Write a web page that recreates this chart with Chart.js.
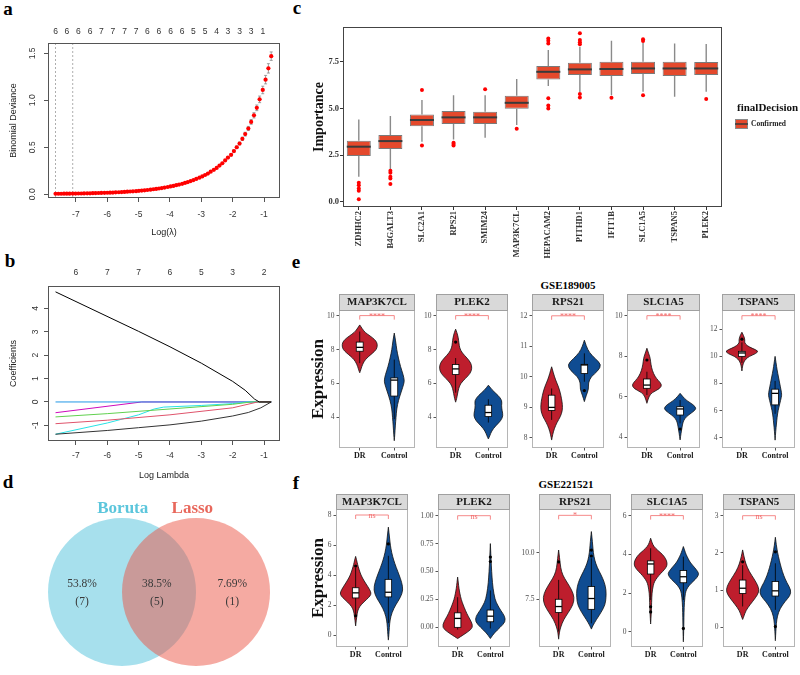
<!DOCTYPE html>
<html>
<head>
<meta charset="utf-8">
<script src="https://cdn.jsdelivr.net/npm/chart.js@4.4.1/dist/chart.umd.min.js"></script>
<style>
  body { margin:0; width:800px; height:675px; background:#fff; position:relative; overflow:hidden; }
  canvas { position:absolute; }
  .t { position:absolute; transform:translate(-50%,-50%); font-family:"Liberation Serif",serif; font-weight:bold; white-space:nowrap; color:#000; }
</style>
</head>
<body>
<div class="t" style="left:8px;top:9px;font-size:19px">a</div>
<div class="t" style="left:10px;top:261px;font-size:19px">b</div>
<div class="t" style="left:297px;top:8px;font-size:19px">c</div>
<div class="t" style="left:8px;top:482px;font-size:19px">d</div>
<div class="t" style="left:296px;top:262px;font-size:19px">e</div>
<div class="t" style="left:296px;top:483px;font-size:19px">f</div>
<div class="t" style="left:568px;top:285px;font-size:11px">GSE189005</div>
<div class="t" style="left:566px;top:484px;font-size:11px">GSE221521</div>
<script>
// ---------- panel a : cross-validation curve ----------
const logLambda = [-0.77, -0.86, -0.95, -1.04, -1.14, -1.23, -1.32, -1.41, -1.50, -1.60,
  -1.69, -1.78, -1.87, -1.96, -2.05, -2.15, -2.24, -2.33, -2.42, -2.51,
  -2.60, -2.70, -2.79, -2.88, -2.97, -3.06, -3.16, -3.25, -3.34, -3.43,
  -3.52, -3.61, -3.71, -3.80, -3.89, -3.98, -4.07, -4.17, -4.26, -4.35,
  -4.44, -4.53, -4.62, -4.72, -4.81, -4.90, -4.99, -5.08, -5.18, -5.27,
  -5.36, -5.45, -5.54, -5.63, -5.73, -5.82, -5.91, -6.00, -6.09, -6.19,
  -6.28, -6.37, -6.46, -6.55, -6.64, -6.74, -6.83, -6.92, -7.01, -7.10,
  -7.20, -7.29, -7.38, -7.47, -7.56, -7.65];
const devMean = [1.47, 1.34, 1.22, 1.11, 1.01, 0.92, 0.84, 0.77, 0.70, 0.64,
  0.59, 0.54, 0.50, 0.46, 0.42, 0.39, 0.36, 0.33, 0.305, 0.28,
  0.26, 0.24, 0.22, 0.205, 0.19, 0.176, 0.163, 0.151, 0.14, 0.13,
  0.12, 0.111, 0.103, 0.096, 0.089, 0.083, 0.077, 0.071, 0.066, 0.061,
  0.057, 0.053, 0.049, 0.045, 0.042, 0.039, 0.036, 0.033, 0.031, 0.029,
  0.027, 0.025, 0.023, 0.021, 0.020, 0.018, 0.017, 0.016, 0.015, 0.014,
  0.013, 0.012, 0.011, 0.010, 0.010, 0.009, 0.008, 0.008, 0.007, 0.007,
  0.006, 0.006, 0.006, 0.005, 0.005, 0.005];
const devErr = [0.045, 0.05, 0.045, 0.04, 0.035, 0.03, 0.028, 0.025, 0.022, 0.02, 0.018, 0.016, 0.014, 0.012, 0.011, 0.01];
const lambdaLines = [-7.65, -7.10];
const aTopPos = [-7.65, -7.29, -6.92, -6.55, -6.19, -5.82, -5.45, -5.08, -4.72, -4.35, -3.98, -3.61, -3.25, -2.88, -2.51, -2.15, -1.78, -1.41, -1.04];
const aTopLabels = ['6','6','6','6','7','7','7','7','6','6','6','6','5','5','4','3','3','3','1'];

// ---------- panel b : coefficient paths ----------
const bTopPos = [-7, -6, -5, -4, -3, -2, -1];
const bTopLabels = ['6','7','7','6','5','3','2'];
const coefPaths = [
  [[-7.65,4.71],[-5,3.02],[-4,2.36],[-3,1.66],[-2,0.88],[-1.6,0.5],[-1.3,0.12],[-1.15,0],[-0.77,0]],
  [[-7.65,-1.38],[-6,-1.22],[-5,-1.1],[-4,-0.98],[-3,-0.82],[-2,-0.6],[-1.5,-0.45],[-1.1,-0.25],[-0.77,0]],
  [[-7.65,-0.93],[-6,-0.78],[-4,-0.55],[-2,-0.25],[-1.2,0],[-0.77,0]],
  [[-7.65,-0.64],[-6,-0.5],[-4,-0.3],[-2,-0.1],[-1.4,0],[-0.77,0]],
  [[-7.65,-1.38],[-6,-0.9],[-5,-0.55],[-4.5,-0.3],[-4.2,-0.22],[-3,-0.15],[-2,-0.07],[-1.5,0],[-0.77,0]],
  [[-7.65,0],[-0.77,0]],
  [[-7.65,-0.46],[-4.9,0],[-0.77,0]]
];
const coefColors = ['#000000', '#333333', '#DF536B', '#61D04F', '#28E2E5', '#2297E6', '#CD0BBC'];

// ---------- panel c : Boruta importance ----------
const cGenes = ['ZDHHC2','B4GALT3','SLC2A1','RPS21','SMIM24','MAP3K7CL','HEPACAM2','PITHD1','IFIT1B','SLC1A5','TSPAN5','PLEK2'];
const cLo  = [1.34, 1.73, 3.21, 3.34, 3.43, 4.11, 6.20, 5.86, 5.71, 5.89, 5.63, 5.89];
const cQ1  = [2.45, 2.82, 4.05, 4.16, 4.16, 4.98, 6.55, 6.79, 6.73, 6.84, 6.73, 6.79];
const cMed = [2.95, 3.25, 4.38, 4.52, 4.52, 5.30, 6.96, 7.09, 7.11, 7.14, 7.14, 7.14];
const cQ3  = [3.27, 3.57, 4.68, 4.86, 4.82, 5.68, 7.27, 7.45, 7.50, 7.50, 7.50, 7.48];
const cHi  = [4.41, 4.59, 5.45, 5.71, 5.71, 6.57, 8.13, 8.30, 8.63, 8.52, 8.48, 8.45];
const cOut = [[1.02,0.89,0.71,0.59,0.13],[1.66,1.55,1.34,1.25,0.95],[5.98,3.02],[3.16,3.09,3.02],[6.02],[3.91],
  [8.75,8.63,8.48,5.54,5.16,5.0],[9.02,8.66,8.54,8.43,5.77,5.59],[5.57],[8.71,8.61,5.71],[],[5.5]];
const cTicks = [0, 2.5, 5, 7.5];

// ---------- panel d : Venn ----------
const vennSets = ['Boruta', 'Lasso'];
const vennCounts = [7, 5, 1]; // Boruta only, both, Lasso only

// ---------- panels e, f : violins ----------
const groups = ['DR', 'Control'];
const eGenes = ['MAP3K7CL','PLEK2','RPS21','SLC1A5','TSPAN5'];
const eSig = ['****','****','****','****','****'];
const eBracket = [10, 10, 12, 10, 13];
const eTicks = [[4,6,8,10],[4,6,8,10],[8,9,10,11,12],[4,6,8,10],[4,6,8,10,12]];
const eTickLabels = [['4','6','8','10'],['4','6','8','10'],['8','9','10','11','12'],['4','6','8','10'],['4','6','8','10','12']];
const eRange = [[2.2,10.33],[2.2,10.33],[7.67,12.19],[3.46,10.28],[3.24,13.42]];
const eViolinDR = [
  [[9.45,0],[9.2,0.08],[9.0,0.16],[8.8,0.3],[8.6,0.43],[8.4,0.5],[8.2,0.51],[8.0,0.48],[7.8,0.38],[7.6,0.26],[7.4,0.16],[7.2,0.1],[7.0,0.06],[6.8,0.03],[6.63,0]],
  [[9.2,0],[9.0,0.04],[8.7,0.08],[8.4,0.1],[8.1,0.12],[7.8,0.2],[7.5,0.35],[7.2,0.47],[6.9,0.5],[6.6,0.45],[6.3,0.3],[6.0,0.15],[5.7,0.09],[5.4,0.06],[5.1,0.03],[4.9,0]],
  [[10.33,0],[10.1,0.06],[9.9,0.12],[9.7,0.2],[9.5,0.26],[9.3,0.3],[9.1,0.33],[8.9,0.33],[8.7,0.27],[8.5,0.16],[8.3,0.08],[8.1,0.03],[7.93,0]],
  [[8.39,0],[8.1,0.06],[7.9,0.1],[7.6,0.12],[7.3,0.16],[7.0,0.24],[6.8,0.34],[6.6,0.45],[6.4,0.4],[6.2,0.15],[6.0,0.06],[5.67,0]],
  [[11.78,0],[11.5,0.06],[11.2,0.09],[11.0,0.08],[10.8,0.15],[10.6,0.3],[10.4,0.5],[10.2,0.42],[10.0,0.22],[9.8,0.12],[9.6,0.06],[9.3,0.02],[8.92,0]]
];
const eViolinCtrl = [
  [[8.97,0],[8.5,0.04],[8.0,0.07],[7.5,0.12],[7.0,0.18],[6.5,0.26],[6.2,0.29],[6.0,0.28],[5.5,0.2],[5.0,0.12],[4.5,0.07],[4.0,0.05],[3.5,0.03],[3.0,0.015],[2.63,0]],
  [[5.9,0],[5.6,0.12],[5.3,0.3],[5.0,0.42],[4.7,0.4],[4.4,0.42],[4.1,0.45],[3.8,0.38],[3.5,0.22],[3.2,0.1],[2.9,0.04],[2.73,0]],
  [[11.2,0],[11.0,0.06],[10.8,0.15],[10.6,0.33],[10.4,0.52],[10.2,0.42],[10.0,0.2],[9.8,0.12],[9.6,0.13],[9.4,0.06],[9.19,0]],
  [[6.16,0],[6.0,0.08],[5.8,0.2],[5.6,0.4],[5.4,0.5],[5.2,0.35],[5.0,0.18],[4.8,0.1],[4.6,0.07],[4.4,0.05],[4.2,0.03],[3.86,0]],
  [[10.0,0],[9.5,0.03],[9.0,0.06],[8.5,0.1],[8.0,0.14],[7.5,0.18],[7.2,0.2],[7.0,0.19],[6.5,0.14],[6.0,0.09],[5.5,0.06],[5.0,0.04],[4.5,0.02],[3.82,0]]
];
// [lower whisker, q1, median, q3, upper whisker]
const eBoxDR = [[7.2,7.9,8.13,8.44,9.06],[5.46,6.53,6.86,7.12,7.5],[8.59,8.9,9.0,9.4,9.62],[6.08,6.41,6.57,6.87,7.23],[9.52,10.0,10.25,10.37,11.03]];
const eBoxCtrl = [[3.9,5.26,6.2,6.33,7.41],[3.7,4.05,4.29,4.72,5.07],[9.84,10.11,10.39,10.41,10.77],[4.68,5.09,5.39,5.5,5.83],[5.76,6.42,7.27,7.58,8.19]];
const eOutDR = [[],[8.44],[],[7.81],[11.27]];
const eOutCtrl = [[],[],[9.55],[4.4],[]];

const fGenes = ['MAP3K7CL','PLEK2','RPS21','SLC1A5','TSPAN5'];
const fSig = ['ns','ns','*','****','ns'];
const fBracket = [8, 1.0, 12.0, 6, 3];
const fTicks = [[0,2,4,6,8],[0,0.25,0.5,0.75,1],[7.5,10],[0,2,4,6],[0,1,2,3]];
const fTickLabels = [['0','2','4','6','8'],['0.00','0.25','0.50','0.75','1.00'],['7.5','10.0'],['0','2','4','6'],['0','1','2','3']];
const fRange = [[-0.8,8.4],[-0.176,1.06],[4.94,12.34],[-0.79,6.34],[-0.53,3.18]];
const fViolinDR = [
  [[5.24,0],[5.0,0.03],[4.7,0.06],[4.4,0.1],[4.0,0.16],[3.6,0.26],[3.2,0.38],[2.9,0.46],[2.7,0.47],[2.5,0.4],[2.2,0.25],[1.9,0.12],[1.6,0.06],[1.3,0.04],[1.0,0.02],[0.6,0]],
  [[0.45,0],[0.4,0.02],[0.35,0.04],[0.3,0.07],[0.25,0.11],[0.2,0.17],[0.15,0.24],[0.1,0.32],[0.05,0.42],[0.0,0.47],[-0.04,0.32],[-0.1,0]],
  [[10.14,0],[9.7,0.03],[9.2,0.06],[8.8,0.12],[8.4,0.26],[8.0,0.4],[7.6,0.48],[7.2,0.44],[6.8,0.3],[6.4,0.15],[6.0,0.06],[5.7,0.02],[5.36,0]],
  [[4.83,0],[4.6,0.04],[4.4,0.1],[4.2,0.22],[4.0,0.36],[3.8,0.45],[3.6,0.5],[3.4,0.5],[3.2,0.42],[3.0,0.3],[2.8,0.2],[2.6,0.12],[2.4,0.08],[2.0,0.04],[1.5,0.03],[1.0,0.02],[0.4,0]],
  [[2.08,0],[1.9,0.04],[1.7,0.1],[1.5,0.2],[1.3,0.35],[1.1,0.48],[0.95,0.5],[0.8,0.4],[0.6,0.22],[0.45,0.1],[0.3,0.04],[0.21,0]]
];
const fViolinCtrl = [
  [[7.19,0],[6.8,0.02],[6.4,0.04],[6.0,0.06],[5.5,0.1],[5.0,0.16],[4.5,0.24],[4.0,0.33],[3.5,0.41],[3.0,0.45],[2.5,0.37],[2.0,0.22],[1.5,0.11],[1.0,0.05],[0.5,0.03],[0,0.015],[-0.34,0]],
  [[0.75,0],[0.65,0.015],[0.55,0.03],[0.45,0.05],[0.35,0.08],[0.25,0.14],[0.2,0.22],[0.15,0.32],[0.1,0.44],[0.05,0.46],[0.0,0.3],[-0.05,0.12],[-0.1,0]],
  [[11.13,0],[10.8,0.02],[10.4,0.04],[10.0,0.06],[9.6,0.1],[9.2,0.18],[8.8,0.3],[8.4,0.4],[8.0,0.45],[7.6,0.45],[7.2,0.42],[6.8,0.3],[6.4,0.15],[6.1,0.05],[5.9,0]],
  [[4.4,0],[4.2,0.04],[4.0,0.08],[3.8,0.14],[3.6,0.2],[3.4,0.3],[3.2,0.4],[3.0,0.48],[2.8,0.42],[2.6,0.3],[2.4,0.18],[2.2,0.1],[2.0,0.06],[1.5,0.03],[1.0,0.02],[0.5,0.015],[0,0.01],[-0.52,0]],
  [[2.42,0],[2.2,0.03],[2.0,0.07],[1.8,0.12],[1.6,0.18],[1.4,0.25],[1.2,0.35],[1.0,0.48],[0.85,0.45],[0.7,0.3],[0.5,0.14],[0.3,0.06],[0.1,0.03],[-0.1,0.015],[-0.36,0]]
];
const fBoxDR = [[1.35,2.47,2.81,3.15,4.49],[-0.02,0.0,0.08,0.13,0.27],[5.77,6.79,7.11,7.5,8.54],[1.64,2.98,3.5,3.66,4.31],[0.56,0.91,1.05,1.27,1.67]];
const fBoxCtrl = [[0.79,2.54,2.85,3.71,5.28],[-0.01,0.05,0.10,0.155,0.33],[6.21,6.96,7.54,8.18,9.7],[1.64,2.53,2.84,3.16,3.88],[0.47,0.84,0.98,1.23,1.72]];
const fOutDR = [[4.6,1.28],[],[9.5],[1.29,1.02],[1.76]];
const fOutCtrl = [[6.07],[0.63,0.59],[10.14,9.82],[0.17],[2.03,0.02]];

// ---------- helpers ----------
const SANS = '"Liberation Sans", Arial, sans-serif';
const SERIF = '"Liberation Serif", "Times New Roman", serif';
Chart.defaults.font.family = SERIF;

function canvasAt(l, t, w, h) {
  const c = document.createElement('canvas');
  c.width = w; c.height = h;
  Object.assign(c.style, { left: l + 'px', top: t + 'px', width: w + 'px', height: h + 'px' });
  document.body.appendChild(c);
  return c;
}
const fixX = h => s => { s.height = h; s.paddingLeft = 0; s.paddingRight = 0; };
const fixY = w => s => { s.width = w; s.paddingTop = 0; s.paddingBottom = 0; };
const tickAt = vals => s => { s.ticks = vals.map(v => ({ value: v })); };
const base = { responsive: false, animation: false, devicePixelRatio: 1, events: [],
  plugins: { legend: { display: false }, tooltip: { enabled: false } } };

function frame(color) {
  return { id: 'frame', afterDraw(ch) {
    const a = ch.chartArea, c = ch.ctx;
    c.save(); c.strokeStyle = color; c.lineWidth = 1;
    c.strokeRect(Math.round(a.left) + 0.5, Math.round(a.top) + 0.5, Math.round(a.width) - 1, Math.round(a.height) - 1);
    c.restore();
  } };
}

// shared R-style axes for panels a and b
function glmnetScales(o) {
  const tf = { family: SANS, size: 8.5 };
  return {
    x: { type: 'linear', position: 'bottom', min: -7.89, max: -0.49,
      afterBuildTicks: tickAt([-7, -6, -5, -4, -3, -2, -1]),
      ticks: { font: tf, color: '#333', padding: o.xPad, autoSkip: false, maxRotation: 0, callback: v => String(v) },
      grid: { drawOnChartArea: false, tickLength: 4, color: '#555' }, border: { display: false },
      title: { display: true, text: o.xTitle, font: { family: SANS, size: 9 }, color: '#222', padding: { top: 0, bottom: o.xTitlePad } },
      afterFit: fixX(o.padB) },
    x2: { type: 'linear', position: 'top', min: -7.89, max: -0.49,
      afterBuildTicks: tickAt(o.topPos),
      ticks: { font: tf, color: '#333', padding: o.topPad, autoSkip: false, maxRotation: 0, callback: (v, i) => o.topLabels[i] },
      grid: { display: false, drawTicks: false }, border: { display: false },
      afterFit: fixX(o.padT) },
    y: { min: o.yMin, max: o.yMax, afterBuildTicks: tickAt(o.yTicks),
      ticks: { font: tf, color: '#333', minRotation: 90, maxRotation: 90, crossAlign: 'center', padding: 5, autoSkip: false, callback: o.yFmt },
      grid: { drawOnChartArea: false, tickLength: 4, color: '#555' }, border: { display: false },
      title: { display: true, text: o.yTitle, font: { family: SANS, size: 9 }, color: '#222', padding: { top: 8, bottom: 0 } },
      afterFit: fixY(48) }
  };
}

// ---------- panel a ----------
const cvPlugin = {
  id: 'cv',
  beforeDatasetsDraw(ch) {
    const { ctx, chartArea: a, scales: { x, y } } = ch;
    ctx.save();
    ctx.strokeStyle = '#9a9a9a'; ctx.lineWidth = 0.8; ctx.setLineDash([2, 2]);
    lambdaLines.forEach(v => {
      const px = x.getPixelForValue(v);
      ctx.beginPath(); ctx.moveTo(px, a.top); ctx.lineTo(px, a.bottom); ctx.stroke();
    });
    ctx.setLineDash([]);
    ctx.strokeStyle = '#888';
    logLambda.forEach((lx, i) => {
      const e = devErr[i] || 0;
      if (!e) return;
      const px = x.getPixelForValue(lx), y1 = y.getPixelForValue(devMean[i] + e), y2 = y.getPixelForValue(devMean[i] - e);
      ctx.beginPath();
      ctx.moveTo(px, y1); ctx.lineTo(px, y2);
      ctx.moveTo(px - 1.5, y1); ctx.lineTo(px + 1.5, y1);
      ctx.moveTo(px - 1.5, y2); ctx.lineTo(px + 1.5, y2);
      ctx.stroke();
    });
    ctx.restore();
  }
};
new Chart(canvasAt(0, 0, 290, 240), {
  type: 'scatter',
  data: { datasets: [{ data: logLambda.map((x, i) => ({ x, y: devMean[i] })), pointRadius: 2.1,
    backgroundColor: '#ff0000', borderWidth: 0 }] },
  options: { ...base, layout: { padding: { left: 0, top: 0, right: 10, bottom: 0 } },
    scales: glmnetScales({ xTitle: 'Log(\u03bb)', xPad: 8, xTitlePad: 1.6, padB: 42, topPos: aTopPos, topLabels: aTopLabels,
      topPad: 6, padT: 43, yMin: -0.04, yMax: 1.61, yTicks: [0, 0.5, 1, 1.5], yFmt: v => v.toFixed(1), yTitle: 'Binomial Deviance' }) },
  plugins: [cvPlugin, frame('#555')]
});

// ---------- panel b ----------
new Chart(canvasAt(0, 255, 290, 230), {
  type: 'scatter',
  data: { datasets: coefPaths.map((p, k) => ({ data: p.map(([x, y]) => ({ x, y })), showLine: true,
    borderColor: coefColors[k], borderWidth: 1, pointRadius: 0, tension: 0 })) },
  options: { ...base, layout: { padding: { left: 0, top: 0, right: 10, bottom: 0 } },
    scales: glmnetScales({ xTitle: 'Log Lambda', xPad: 6, xTitlePad: 3.6, padB: 44, topPos: bTopPos, topLabels: bTopLabels,
      topPad: 8, padT: 31, yMin: -1.67, yMax: 4.96, yTicks: [-1, 0, 1, 2, 3, 4], yFmt: v => String(v), yTitle: 'Coefficients' }) },
  plugins: [frame('#555')]
});

// ---------- panel c ----------
const boxColor = '#E4492C';
const boxPluginC = {
  id: 'cbox',
  beforeDatasetsDraw(ch) {
    const { ctx, scales: { x, y } } = ch;
    ctx.save(); ctx.strokeStyle = '#8a8a8a'; ctx.lineWidth = 1.4;
    cGenes.forEach((g, i) => {
      const px = x.getPixelForValue(i);
      ctx.beginPath();
      ctx.moveTo(px, y.getPixelForValue(cLo[i])); ctx.lineTo(px, y.getPixelForValue(cQ1[i]));
      ctx.moveTo(px, y.getPixelForValue(cQ3[i])); ctx.lineTo(px, y.getPixelForValue(cHi[i]));
      ctx.stroke();
    });
    ctx.restore();
  },
  afterDatasetsDraw(ch) {
    const { ctx, scales: { y } } = ch;
    const bars = ch.getDatasetMeta(0).data;
    ctx.save(); ctx.strokeStyle = '#3a3a3a'; ctx.lineWidth = 2;
    bars.forEach((b, i) => {
      const py = y.getPixelForValue(cMed[i]);
      ctx.beginPath(); ctx.moveTo(b.x - b.width / 2, py); ctx.lineTo(b.x + b.width / 2, py); ctx.stroke();
    });
    ctx.restore();
  },
  afterDraw(ch) {
    const ctx = ch.ctx, ox = 291;
    ctx.save();
    ctx.fillStyle = '#111'; ctx.textBaseline = 'middle'; ctx.textAlign = 'left';
    ctx.font = 'bold 11px ' + SERIF;
    ctx.fillText('finalDecision', 737 - ox, 108);
    ctx.fillStyle = boxColor; ctx.strokeStyle = '#8a8a8a'; ctx.lineWidth = 1;
    ctx.fillRect(735 - ox, 119.5, 13, 9); ctx.strokeRect(735.5 - ox, 119.5, 12, 9);
    ctx.strokeStyle = '#3a3a3a'; ctx.lineWidth = 1.5;
    ctx.beginPath(); ctx.moveTo(735 - ox, 124); ctx.lineTo(748 - ox, 124); ctx.stroke();
    ctx.fillStyle = '#222'; ctx.font = 'bold 7.5px ' + SERIF;
    ctx.fillText('Confirmed', 751 - ox, 124.5);
    ctx.restore();
  }
};
new Chart(canvasAt(291, 0, 509, 260), {
  type: 'bar',
  data: { labels: cGenes, datasets: [
    { data: cGenes.map((g, i) => [cQ1[i], cQ3[i]]), backgroundColor: boxColor, borderColor: '#7a7a7a',
      borderWidth: 1, borderSkipped: false, barPercentage: 0.76, categoryPercentage: 1 },
    { type: 'scatter', data: cOut.flatMap((arr, i) => arr.map(v => ({ x: cGenes[i], y: v }))), pointRadius: 2,
      backgroundColor: '#ff0000', borderWidth: 0 }
  ] },
  options: { ...base, layout: { padding: { left: 0, top: 27, right: 78, bottom: 0 } },
    scales: {
      x: { ticks: { font: { weight: 'bold', size: 8.5 }, color: '#333', minRotation: 90, maxRotation: 90, autoSkip: false, padding: 1 },
        grid: { drawOnChartArea: false, tickLength: 3, color: '#333', offset: false }, border: { display: false }, afterFit: fixX(53) },
      y: { min: -0.28, max: 9.36, afterBuildTicks: tickAt(cTicks),
        ticks: { callback: v => v.toFixed(1), font: { weight: 'bold', size: 8.5 }, color: '#333', padding: 1, autoSkip: false },
        grid: { drawOnChartArea: false, tickLength: 3, color: '#333' }, border: { display: false },
        title: { display: true, text: 'Importance', font: { weight: 'bold', size: 14 }, color: '#111', padding: { top: 19.6, bottom: 0 } },
        afterFit: fixY(52) }
    } },
  plugins: [boxPluginC, frame('#444')]
});

// ---------- panel d ----------
const vennR = 1, vennOff = 0.5;
const vennPlugin = {
  id: 'venn',
  afterDatasetsDraw(ch) {
    const { ctx, scales: { x, y } } = ch;
    const r = x.getPixelForValue(vennR) - x.getPixelForValue(0);
    const total = vennCounts.reduce((s, v) => s + v, 0);
    ctx.save();
    [[-vennOff, 'rgba(79,193,219,0.5)'], [vennOff, 'rgba(236,86,70,0.5)']].forEach(([cx, col]) => {
      ctx.beginPath(); ctx.arc(x.getPixelForValue(cx), y.getPixelForValue(0), r, 0, Math.PI * 2);
      ctx.fillStyle = col; ctx.fill();
    });
    ctx.textAlign = 'center'; ctx.textBaseline = 'middle';
    ctx.font = 'bold 17px ' + SERIF;
    ctx.fillStyle = '#5CC6DC'; ctx.fillText(vennSets[0], x.getPixelForValue(-0.49), y.getPixelForValue(1.12));
    ctx.fillStyle = '#E8675B'; ctx.fillText(vennSets[1], x.getPixelForValue(0.45), y.getPixelForValue(1.12));
    ctx.font = '11.5px ' + SERIF; ctx.fillStyle = '#3a3a3a';
    [-1.04, -0.03, 0.99].forEach((cx, k) => {
      const pct = (vennCounts[k] / total * 100).toPrecision(3) + '%';
      ctx.fillText(pct, x.getPixelForValue(cx), y.getPixelForValue(0.11));
      ctx.fillText('(' + vennCounts[k] + ')', x.getPixelForValue(cx), y.getPixelForValue(-0.135));
    });
    ctx.restore();
  }
};
new Chart(canvasAt(0, 490, 290, 185), {
  type: 'scatter',
  data: { datasets: [{ data: [] }] },
  options: { ...base, layout: { padding: 0 },
    scales: { x: { type: 'linear', display: false, min: -2.149, max: 1.770 },
              y: { type: 'linear', display: false, min: -1.122, max: 1.378 } } },
  plugins: [vennPlugin]
});

// ---------- panels e, f ----------
const violinCols = ['#BE1E2D', '#0F4C92'];
function drawViolin(ctx, x, y, cx, knots, fill) {
  const pts = knots.map(([v, w]) => [x.getPixelForValue(cx + w), y.getPixelForValue(v)])
    .concat(knots.slice().reverse().map(([v, w]) => [x.getPixelForValue(cx - w), y.getPixelForValue(v)]));
  ctx.beginPath(); ctx.moveTo(pts[0][0], pts[0][1]);
  for (let k = 1; k < pts.length - 1; k++) {
    ctx.quadraticCurveTo(pts[k][0], pts[k][1], (pts[k][0] + pts[k + 1][0]) / 2, (pts[k][1] + pts[k + 1][1]) / 2);
  }
  ctx.lineTo(pts[pts.length - 1][0], pts[pts.length - 1][1]);
  ctx.closePath();
  ctx.fillStyle = fill; ctx.fill();
  ctx.strokeStyle = '#111'; ctx.lineWidth = 0.8; ctx.stroke();
}
function drawBox(ctx, x, y, cx, b) {
  const [lo, q1, med, q3, hi] = b, px = x.getPixelForValue(cx);
  const l = x.getPixelForValue(cx - 0.1), r = x.getPixelForValue(cx + 0.1);
  ctx.strokeStyle = '#000'; ctx.lineWidth = 0.8;
  ctx.beginPath(); ctx.moveTo(px, y.getPixelForValue(lo)); ctx.lineTo(px, y.getPixelForValue(hi)); ctx.stroke();
  const t = y.getPixelForValue(q3), bt = y.getPixelForValue(q1);
  ctx.fillStyle = '#fff'; ctx.fillRect(l, t, r - l, bt - t); ctx.strokeRect(l, t, r - l, bt - t);
  ctx.lineWidth = 1.3;
  ctx.beginPath(); ctx.moveTo(l, y.getPixelForValue(med)); ctx.lineTo(r, y.getPixelForValue(med)); ctx.stroke();
}
function facetPlugin(row, i) {
  return {
    id: 'facet',
    beforeDatasetsDraw(ch) {
      const { ctx, chartArea: a, scales: { x, y } } = ch;
      ctx.save();
      ctx.beginPath(); ctx.rect(a.left, a.top, a.width, a.height); ctx.clip();
      drawViolin(ctx, x, y, 1, row.dr[i], violinCols[0]);
      drawViolin(ctx, x, y, 2, row.ctrl[i], violinCols[1]);
      drawBox(ctx, x, y, 1, row.boxDR[i]);
      drawBox(ctx, x, y, 2, row.boxCtrl[i]);
      ctx.restore();
    },
    afterDraw(ch) {
      const { ctx, chartArea: a, scales: { x, y } } = ch;
      ctx.save();
      const L = Math.round(a.left) + 0.5, T = Math.round(a.top) + 0.5, W = Math.round(a.width) - 1, H = Math.round(a.height) - 1;
      ctx.strokeStyle = '#b5b5b5'; ctx.lineWidth = 1; ctx.strokeRect(L, T, W, H);
      ctx.fillStyle = '#D9D9D9'; ctx.fillRect(L, T - row.stripH, W, row.stripH);
      ctx.strokeStyle = '#a0a0a0'; ctx.strokeRect(L, T - row.stripH, W, row.stripH);
      ctx.fillStyle = '#1a1a1a'; ctx.font = 'bold 11px ' + SERIF; ctx.textAlign = 'center'; ctx.textBaseline = 'middle';
      ctx.fillText(row.genes[i], a.left + a.width / 2, a.top - row.stripH / 2 + 0.5);
      // significance bracket
      const by = y.getPixelForValue(row.bracket[i]), x1 = x.getPixelForValue(1), x2 = x.getPixelForValue(2);
      ctx.strokeStyle = '#F26B6B'; ctx.lineWidth = 0.8;
      ctx.beginPath(); ctx.moveTo(x1, by + 4); ctx.lineTo(x1, by); ctx.lineTo(x2, by); ctx.lineTo(x2, by + 4); ctx.stroke();
      ctx.fillStyle = '#F26B6B'; ctx.font = '8px ' + SERIF; ctx.textBaseline = 'alphabetic';
      ctx.fillText(row.sig[i], (x1 + x2) / 2, by + 3);
      ctx.restore();
    }
  };
}
function facet(row, i) {
  const [l, r] = row.areas[i];
  const padL = row.padL[i], padT = row.stripH + 1, padB = 16, padR = 2;
  const cl = l - padL;
  const cv = canvasAt(cl, row.top - padT, r - l + padL + padR, row.bottom - row.top + padT + padB);
  new Chart(cv, {
    type: 'scatter',
    data: { datasets: [{ data: [...row.outDR[i].map(v => ({ x: 1, y: v })), ...row.outCtrl[i].map(v => ({ x: 2, y: v }))],
      pointRadius: 1.6, backgroundColor: '#000', borderWidth: 0 }] },
    options: { ...base, layout: { padding: { left: 0, top: padT, right: padR, bottom: 0 } },
      scales: {
        x: { type: 'linear', min: 0.4, max: 2.6, afterBuildTicks: tickAt([1, 2]),
          ticks: { callback: (v, k) => groups[k], font: { weight: 'bold', size: 8 }, color: '#1a1a1a', padding: 1, autoSkip: false, maxRotation: 0 },
          grid: { drawOnChartArea: false, tickLength: 2.5, color: '#555' }, border: { display: false }, afterFit: fixX(padB) },
        y: { min: row.range[i][0], max: row.range[i][1], afterBuildTicks: tickAt(row.ticks[i]),
          ticks: { callback: (v, k) => row.tickLabels[i][k], font: { size: 7.5 }, color: '#4d4d4d', padding: 2, autoSkip: false },
          grid: { drawOnChartArea: false, tickLength: 2.5, color: '#555' }, border: { display: false },
          title: { display: i === 0, text: 'Expression', font: { weight: 'bold', size: 17 }, color: '#111',
            padding: { top: 319 - cl - 10.2, bottom: 0 } },
          afterFit: fixY(padL) }
      } },
    plugins: [facetPlugin(row, i)]
  });
}
const eRow = { genes: eGenes, sig: eSig, bracket: eBracket, ticks: eTicks, tickLabels: eTickLabels, range: eRange,
  dr: eViolinDR, ctrl: eViolinCtrl, boxDR: eBoxDR, boxCtrl: eBoxCtrl, outDR: eOutDR, outCtrl: eOutCtrl,
  areas: [[339,415],[436,510],[532,606],[627,702],[722,797]], top: 310, bottom: 448, stripH: 16, padL: [36,24,24,24,24] };
const fRow = { genes: fGenes, sig: fSig, bracket: fBracket, ticks: fTicks, tickLabels: fTickLabels, range: fRange,
  dr: fViolinDR, ctrl: fViolinCtrl, boxDR: fBoxDR, boxCtrl: fBoxCtrl, outDR: fOutDR, outCtrl: fOutCtrl,
  areas: [[336,410],[438,512],[539,613],[631,705],[723,797]], top: 509, bottom: 647, stripH: 15, padL: [33,26,26,26,26] };
for (let i = 0; i < 5; i++) { facet(eRow, i); facet(fRow, i); }
</script>
</body>
</html>
